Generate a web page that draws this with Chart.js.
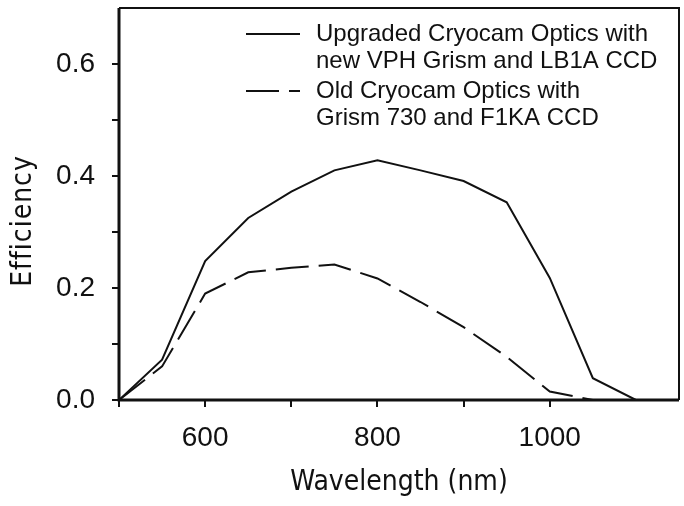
<!DOCTYPE html>
<html lang="en">
<head>
<meta charset="UTF-8">
<title>Efficiency vs Wavelength</title>
<script src="https://cdn.jsdelivr.net/npm/chart.js"></script>
<style>
  html, body { margin: 0; padding: 0; background: #fff; }
  #wrap { width: 684px; height: 506px; }
</style>
</head>
<body>
<div id="wrap"><canvas id="effChart" width="684" height="506"></canvas></div>
<script>
// wavelengths (nm) and efficiencies
const wlUpgraded = [500, 550, 600, 650, 700, 750, 800, 850, 900, 950, 1000, 1050, 1100];
const effUpgraded = [0.0, 0.072, 0.248, 0.325, 0.372, 0.41, 0.428, 0.41, 0.391, 0.353, 0.218, 0.039, 0.0];

const wlOld = [500, 550, 600, 650, 700, 750, 800, 850, 900, 950, 1000, 1050];
const effOld = [0.0, 0.06, 0.19, 0.228, 0.236, 0.242, 0.217, 0.175, 0.13, 0.077, 0.015, 0.0];

const xTickLabels = [600, 800, 1000];
const yTickLabels = [0.0, 0.2, 0.4, 0.6];

const legendText = [
    ['Upgraded Cryocam Optics with', 'new VPH Grism and LB1A CCD'],
    ['Old Cryocam Optics with', 'Grism 730 and F1KA CCD']
];

const ink = '#111';
const tickFont = { family: '"Liberation Sans", Arial, sans-serif', size: 28 };
const titleFont = { family: '"DejaVu Sans Condensed", sans-serif', size: 28 };

function toPoints(xs, ys) {
    return xs.map((x, i) => ({ x: x, y: ys[i] }));
}

// frame around the plot, the y title (sits a bit below centre) and the legend
const framePlugin = {
    id: 'frameAndLegend',
    afterDraw(chart) {
        const ctx = chart.ctx;
        const a = chart.chartArea;
        ctx.save();
        ctx.strokeStyle = ink;
        ctx.lineWidth = 2;
        ctx.beginPath();
        ctx.moveTo(a.left, a.top);
        ctx.lineTo(a.right, a.top);
        ctx.lineTo(a.right, a.bottom);
        ctx.stroke();
        ctx.lineWidth = 3;
        ctx.beginPath();
        ctx.moveTo(a.left, a.top);
        ctx.lineTo(a.left, a.bottom);
        ctx.lineTo(a.right, a.bottom);
        ctx.stroke();

        ctx.fillStyle = ink;
        ctx.textBaseline = 'middle';

        ctx.save();
        ctx.translate(24, 221);
        ctx.rotate(-Math.PI / 2);
        ctx.font = '28px "DejaVu Sans Condensed", sans-serif';
        ctx.letterSpacing = '1px';
        ctx.textAlign = 'center';
        ctx.fillText('Efficiency', 0, 0);
        ctx.restore();

        ctx.font = '24px "Liberation Sans", Arial, sans-serif';
        chart.data.datasets.forEach((ds, i) => {
            const y0 = 34 + i * 57;
            ctx.lineWidth = 2;
            ctx.setLineDash(ds.borderDash || []);
            ctx.beginPath();
            ctx.moveTo(246, y0);
            ctx.lineTo(300, y0);
            ctx.stroke();
            ctx.setLineDash([]);
            legendText[i].forEach((t, j) => ctx.fillText(t, 316, y0 + j * 27));
        });
        ctx.restore();
    }
};

new Chart(document.getElementById('effChart').getContext('2d'), {
    type: 'line',
    data: {
        datasets: [{
            label: legendText[0].join(' '),
            data: toPoints(wlUpgraded, effUpgraded),
            borderColor: ink,
            borderWidth: 2,
            pointRadius: 0,
            tension: 0
        }, {
            label: legendText[1].join(' '),
            data: toPoints(wlOld, effOld),
            borderColor: ink,
            borderWidth: 2,
            borderDash: [33, 10],
            pointRadius: 0,
            tension: 0
        }]
    },
    options: {
        responsive: false,
        animation: false,
        layout: { padding: { top: 8, right: 5, left: 0, bottom: 0 } },
        plugins: {
            legend: { display: false },
            tooltip: { enabled: false }
        },
        scales: {
            x: {
                type: 'linear',
                min: 500,
                max: 1150,
                afterBuildTicks: s => { s.ticks = s.ticks.filter(t => t.value % 100 === 0); },
                afterFit: s => { s.height = 106; s.paddingLeft = 0; s.paddingRight = 0; },
                border: { display: false },
                grid: { drawOnChartArea: false, drawTicks: true, tickLength: 7, color: ink, lineWidth: 2 },
                ticks: {
                    stepSize: 100,
                    autoSkip: false,
                    maxRotation: 0,
                    color: ink,
                    font: tickFont,
                    padding: 14,
                    callback: v => xTickLabels.includes(v) ? String(v) : ''
                },
                title: {
                    display: true,
                    text: 'Wavelength (nm)',
                    color: ink,
                    font: titleFont,
                    padding: { top: 0, bottom: 6 }
                }
            },
            y: {
                min: 0,
                max: 0.7,
                afterBuildTicks: s => { s.ticks = s.ticks.filter(t => t.value < 0.65); },
                afterFit: s => { s.width = 119; s.paddingTop = 0; s.paddingBottom = 0; },
                border: { display: false },
                grid: { drawOnChartArea: false, drawTicks: true, tickLength: 7, color: ink, lineWidth: 2 },
                ticks: {
                    stepSize: 0.1,
                    autoSkip: false,
                    color: ink,
                    font: tickFont,
                    padding: 17,
                    callback: v => {
                        const r = Math.round(v * 10) / 10;
                        return yTickLabels.some(t => Math.abs(t - r) < 1e-6) ? r.toFixed(1) : '';
                    }
                }
            }
        }
    },
    plugins: [framePlugin]
});
</script>
</body>
</html>
